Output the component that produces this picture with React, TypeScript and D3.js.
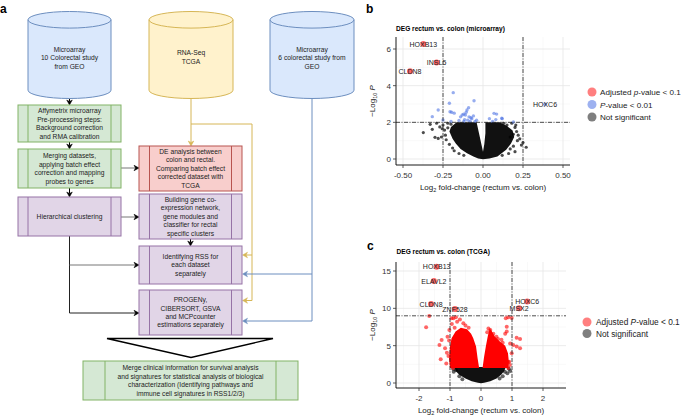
import React from 'react';
import * as d3 from 'd3';

const FONT = "'Liberation Sans', Arial, Helvetica, sans-serif";

// ---------------- Panel b (microarray) data ----------------
const microTicksX = [-0.5, -0.25, 0, 0.25, 0.5];
const microTickLabelsX = ['-0.50', '-0.25', '0.00', '0.25', '0.50'];
const microMinorX = [-0.375, -0.125, 0.125, 0.375];
const microTicksY = [0, 2, 4, 6];
const microMinorY = [1, 3, 5];
const microLfcCut = [-0.25, 0.25];
const microPCut = 2;
// outline of the dense non-significant cloud [log2FC, -log10 P]
const microCoreOutline: [number, number][] = [
  [0.0, -0.02], [-0.03, 0.03], [-0.06, 0.13], [-0.1, 0.31], [-0.14, 0.55], [-0.17, 0.85],
  [-0.19, 1.1], [-0.21, 1.5], [-0.2, 1.75], [-0.165, 2.0], [-0.04, 2.0], [-0.025, 1.4],
  [-0.01, 0.8], [0.0, 0.4], [0.008, 0.8], [0.015, 1.4], [0.015, 2.0], [0.105, 2.0],
  [0.15, 1.8], [0.185, 1.55], [0.195, 1.2], [0.175, 0.85], [0.145, 0.5], [0.09, 0.13], [0.04, 0.03],
];
const microGray: [number, number][] = [
  [-0.33, 1.89], [-0.317, 1.62], [-0.373, 1.44], [-0.3, 1.18], [-0.28, 1.12], [-0.26, 1.2],
  [-0.24, 1.58], [-0.27, 1.75], [-0.29, 1.95], [-0.22, 1.95], [0.21, 1.5], [0.2, 1.72],
  [0.24, 0.76], [0.27, 0.64], [0.25, 0.9], [0.17, 1.2], [0.22, 1.3], [0.15, 1.85],
  [0.18, 1.95], [0.13, 1.95], [-0.21, 0.8], [-0.19, 0.6], [0.2, 0.4], [0.16, 0.3],
  [-0.15, 0.3], [0.23, 1.1], [-0.235, 1.3], [-0.2, 1.9], [-0.25, 1.85], [0.215, 1.0],
  [0.19, 0.7], [-0.23, 1.05], [-0.12, 0.2], [0.12, 0.2], [0.205, 1.85], [-0.255, 1.65],
  [-0.18, 0.45], [0.17, 0.55], [-0.22, 1.7], [0.19, 1.35],
];
const microBlue: [number, number][] = [
  [-0.186, 3.62], [-0.21, 3.04], [-0.056, 3.18], [-0.28, 2.67], [-0.317, 2.31], [-0.206, 2.58],
  [-0.18, 2.5], [-0.1, 2.67], [-0.09, 2.8], [-0.13, 2.4], [-0.087, 2.3], [-0.07, 2.2],
  [-0.115, 2.15], [-0.095, 2.12], [-0.04, 2.12], [-0.075, 2.25], [-0.25, 2.13], [0.069, 2.49],
  [0.085, 2.45], [0.04, 2.2], [0.08, 2.15], [0.12, 2.2], [0.19, 2.02], [-0.11, 2.4],
  [-0.12, 2.45], [-0.105, 2.55], [-0.06, 2.35], [-0.15, 2.1], [-0.2, 2.05], [-0.14, 2.3],
  [0.06, 2.05], [-0.05, 2.05], [-0.08, 2.05], [-0.12, 2.05], [-0.196, 2.55], [0.117, 2.22],
];
const microGenes = ['HOXB13', 'INSL5', 'CLDN8', 'HOXC6'];
const microGeneLfc = [-0.373, -0.29, -0.456, 0.3875];
const microGeneP = [6.27, 5.27, 4.78, 2.98];
const microGeneGroup = ['adj', 'adj', 'adj', 'p'];

// ---------------- Panel c (TCGA) data ----------------
const tcgaTicksX = [-2, -1, 0, 1, 2];
const tcgaMinorX = [-2.5, -1.5, -0.5, 0.5, 1.5, 2.5];
const tcgaTicksY = [0, 5, 10, 15];
const tcgaMinorY = [2.5, 7.5, 12.5];
const tcgaLfcCut = [-1, 1];
const tcgaPCut = 9.0;
const tcgaCoreOutline: [number, number][] = [
  [-0.85, 2.15], [-0.82, 1.6], [-0.7, 1.1], [-0.5, 0.6], [-0.3, 0.25], [-0.1, 0.03], [0, -0.05],
  [0.1, 0.03], [0.3, 0.25], [0.5, 0.6], [0.65, 1.1], [0.75, 1.6], [0.8, 2.15],
];
const tcgaRedLeftOutline: [number, number][] = [
  [-1.0, 2.0], [-1.03, 3.2], [-1.0, 4.9], [-0.95, 6.0], [-0.82, 6.9], [-0.65, 7.4],
  [-0.45, 7.2], [-0.32, 6.6], [-0.25, 6.0], [-0.16, 4.9], [-0.11, 3.3], [-0.06, 2.0],
];
const tcgaRedRightOutline: [number, number][] = [
  [0.05, 2.0], [0.1, 3.5], [0.16, 5.0], [0.22, 6.3], [0.28, 7.3], [0.34, 7.0], [0.45, 6.2],
  [0.6, 5.6], [0.78, 5.0], [0.87, 4.0], [0.9, 2.8], [0.88, 2.0],
];
const tcgaRed: [number, number][] = [
  [-1.67, 8.97], [-1.77, 7.45], [-1.27, 5.76], [-1.34, 5.1], [-1.3, 3.17], [-1.16, 4.64],
  [-1.1, 4.06], [-1.02, 7.1], [-0.89, 8.66], [-0.81, 8.8], [-0.68, 8.5], [-0.77, 8.2],
  [-0.57, 8.0], [-0.94, 7.9], [-1.08, 6.2], [-1.03, 5.7], [-0.95, 8.66], [-0.9, 2.0],
  [-1.12, 2.6], [-1.05, 3.6], [-0.5, 7.7], [-0.4, 7.4], [-0.85, 7.4],
  [0.24, 7.3], [0.3, 7.1], [0.83, 7.54], [0.8, 8.66], [0.88, 8.8], [1.04, 5.1], [1.26, 4.64],
  [1.15, 4.9], [0.78, 6.6], [0.66, 5.8], [0.72, 3.5], [0.88, 2.8], [0.93, 2.4], [0.99, 4.0],
  [0.5, 6.2], [0.4, 6.6], [0.99, 8.7], [1.15, 6.07], [1.26, 5.9], [0.94, 5.3], [0.83, 6.9],
  [0.77, 3.3], [0.91, 2.85], [0.88, 2.0], [0.2, 6.8], [0.55, 5.9], [0.7, 5.4],
];
const tcgaGray: [number, number][] = [
  [-0.81, 1.74], [0.77, 1.5], [0.94, 1.6], [0.85, 1.3], [-0.9, 1.9], [-0.88, 1.5],
  [0.7, 0.9], [-0.7, 0.9], [0.9, 1.9], [-0.6, 0.5], [0.6, 0.6],
];
const tcgaGenes = ['HOXB13', 'ELAVL2', 'CLDN8', 'ZNF528', 'HOXC6', 'MSX2'];
const tcgaGeneLfc = [-1.43, -1.52, -1.61, -0.84, 1.49, 1.23];
const tcgaGeneP = [15.57, 13.65, 10.58, 9.9, 10.9, 10.0];

// ---------------- Flowchart text ----------------
const cyl1Text = ['Microarray', '10 Colorectal study', 'from GEO'];
const cyl2Text = ['RNA-Seq', 'TCGA'];
const cyl3Text = ['Microarray', '6 colorectal study from', 'GEO'];
const box1Text = ['Affymetrix microarray', 'Pre-processing steps:', 'Background correction', 'and RMA calibration'];
const box2Text = ['Merging datasets,', 'applying batch effect', 'correction and mapping', 'probes to genes'];
const box3Text = ['Hierarchical clustering'];
const redText = ['DE analysis between', 'colon and rectal.', 'Comparing batch effect', 'corrected dataset with', 'TCGA'];
const buildText = ['Building gene co-', 'expression network,', 'gene modules and', 'classifier for rectal', 'specific clusters'];
const rssText = ['Identifying RSS for', 'each dataset', 'separately'];
const progText = ['PROGENy,', 'CIBERSORT, GSVA', 'and MCPcounter', 'estimations separately'];
const finalText = [
  'Merge clinical information for survival analysis',
  'and signatures for statistical analysis of biological',
  'characterization (Identifying pathways and',
  'immune cell signatures in RSS1/2/3)',
];

const BLUE = { fill: '#dae8fc', stroke: '#6c8ebf' };
const YELLOW = { fill: '#fff2cc', stroke: '#d6b656' };
const GREEN = { fill: '#d5e8d4', stroke: '#82b366' };
const RED = { fill: '#f8cecc', stroke: '#b85450' };
const PURPLE = { fill: '#e1d5e7', stroke: '#9673a6' };

function Lines({ cx, cy, lines, lh = 8.5, size = 6.7 }: any) {
  const n = lines.length;
  return (
    <text x={cx} textAnchor="middle" fontSize={size} fill="#222" fontFamily={FONT}>
      {lines.map((l: string, i: number) => (
        <tspan key={i} x={cx} y={cy + (i - (n - 1) / 2) * lh + size * 0.35}>{l}</tspan>
      ))}
    </text>
  );
}

function Cylinder({ x, y, w, h, ry, c, lines, ty }: any) {
  const rx = w / 2;
  const body = `M${x},${y + ry} L${x},${y + h - ry} A${rx},${ry} 0 0 0 ${x + w},${y + h - ry} L${x + w},${y + ry} Z`;
  const top = `M${x},${y + ry} A${rx},${ry} 0 0 1 ${x + w},${y + ry} A${rx},${ry} 0 0 1 ${x},${y + ry} Z`;
  return (
    <g>
      <path d={body} fill={c.fill} stroke={c.stroke} strokeWidth={1} />
      <path d={top} fill={c.fill} stroke={c.stroke} strokeWidth={1} />
      <Lines cx={x + w / 2} cy={ty} lines={lines} />
    </g>
  );
}

function ProcBox({ x, y, w, h, bar, c, lines, lh }: any) {
  return (
    <g>
      <rect x={x} y={y} width={w} height={h} fill={c.fill} stroke={c.stroke} strokeWidth={1} />
      <line x1={x + bar} x2={x + bar} y1={y} y2={y + h} stroke={c.stroke} strokeWidth={1} />
      <line x1={x + w - bar} x2={x + w - bar} y1={y} y2={y + h} stroke={c.stroke} strokeWidth={1} />
      <Lines cx={x + w / 2} cy={y + h / 2} lines={lines} lh={lh} />
    </g>
  );
}

function Arrow({ x1, y1, x2, y2, color = '#000', head = '#000', hl = 5, hw = 2.8, sw = 1 }: any) {
  const dx = x2 - x1, dy = y2 - y1;
  const len = Math.sqrt(dx * dx + dy * dy) || 1;
  const ux = dx / len, uy = dy / len;
  const bx = x2 - ux * hl, by = y2 - uy * hl;
  const px = -uy, py = ux;
  const tri = `M${x2},${y2} L${bx + px * hw},${by + py * hw} L${bx + ux * 1.5},${by + uy * 1.5} L${bx - px * hw},${by - py * hw} Z`;
  return (
    <g>
      <line x1={x1} y1={y1} x2={bx + ux * 1.5} y2={by + uy * 1.5} stroke={color} strokeWidth={sw} />
      <path d={tri} fill={head} stroke={head} strokeWidth={0.5} />
    </g>
  );
}

function Flowchart() {
  return (
    <g>
      <text x={0} y={13} fontSize={12} fontWeight="bold" fontFamily={FONT}>a</text>
      <polyline points="191,124 252,124 252,300.5" fill="none" stroke={YELLOW.stroke} strokeWidth={1} />
      <Arrow x1={191} y1={99} x2={191} y2={146} color={YELLOW.stroke} head={YELLOW.stroke} />
      <Arrow x1={252} y1={255} x2={242.5} y2={255} color={YELLOW.stroke} head={YELLOW.stroke} />
      <Arrow x1={252} y1={300.5} x2={242.5} y2={300.5} color={YELLOW.stroke} head={YELLOW.stroke} />
      <line x1={312} y1={99} x2={312} y2={321} stroke={BLUE.stroke} strokeWidth={1} />
      <Arrow x1={312} y1={274} x2={242.5} y2={274} color={BLUE.stroke} head={BLUE.stroke} />
      <Arrow x1={312} y1={321} x2={242.5} y2={321} color={BLUE.stroke} head={BLUE.stroke} />
      <line x1={69.5} y1={236} x2={69.5} y2={313} stroke="#222" strokeWidth={1} />
      <Arrow x1={69.5} y1={265} x2={139} y2={265} color="#777" />
      <Arrow x1={69.5} y1={313} x2={139} y2={313} color="#222" />
      <Arrow x1={69.5} y1={98.5} x2={69.5} y2={105} />
      <Arrow x1={69.5} y1={142} x2={69.5} y2={149} />
      <Arrow x1={69.5} y1={188} x2={69.5} y2={197} />
      <Arrow x1={121} y1={168} x2={139} y2={168} color="#777" />
      <Arrow x1={121} y1={217} x2={139} y2={217} color="#777" />
      <Arrow x1={190.5} y1={239} x2={190.5} y2={246} />

      <Cylinder x={28} y={11.5} w={83} h={87} ry={8.3} c={BLUE} lines={cyl1Text} ty={57.7} />
      <Cylinder x={149} y={11.5} w={84} h={87} ry={8.3} c={YELLOW} lines={cyl2Text} ty={57} />
      <Cylinder x={270} y={11.5} w={84} h={87} ry={8.3} c={BLUE} lines={cyl3Text} ty={57.7} />

      <ProcBox x={18} y={105} w={103} h={37} bar={10} c={GREEN} lines={box1Text} lh={8.6} />
      <ProcBox x={18} y={149} w={103} h={39} bar={10} c={GREEN} lines={box2Text} lh={8.6} />
      <ProcBox x={18} y={197} w={103} h={39} bar={10} c={PURPLE} lines={box3Text} />
      <ProcBox x={139} y={146} w={103} h={45} bar={10.5} c={RED} lines={redText} lh={8.6} />
      <ProcBox x={139} y={194} w={103} h={45} bar={10.5} c={PURPLE} lines={buildText} lh={8.4} />
      <ProcBox x={139} y={246} w={103} h={38} bar={10.5} c={PURPLE} lines={rssText} lh={8.4} />
      <ProcBox x={139} y={290} w={103} h={45} bar={10.5} c={PURPLE} lines={progText} lh={8.4} />

      <path d="M107,338.5 L273,338.5 L191,357.5 Z" fill="#fff" stroke="#000" strokeWidth={1.4} />

      <ProcBox x={83} y={361} w={215} h={39} bar={22} c={GREEN} lines={finalText} lh={8.5} />
    </g>
  );
}

function Grid({ x, y, minorX, majorX, minorY, majorY, left, right, top, bottom }: any) {
  return (
    <g>
      {minorX.map((v: number, i: number) => (
        <line key={'mx' + i} x1={x(v)} x2={x(v)} y1={top} y2={bottom} stroke="#f2f2f2" strokeWidth={0.5} />
      ))}
      {minorY.map((v: number, i: number) => (
        <line key={'my' + i} y1={y(v)} y2={y(v)} x1={left} x2={right} stroke="#f2f2f2" strokeWidth={0.5} />
      ))}
      {majorX.map((v: number, i: number) => (
        <line key={'Mx' + i} x1={x(v)} x2={x(v)} y1={top} y2={bottom} stroke="#e6e6e6" strokeWidth={0.8} />
      ))}
      {majorY.map((v: number, i: number) => (
        <line key={'My' + i} y1={y(v)} y2={y(v)} x1={left} x2={right} stroke="#e6e6e6" strokeWidth={0.8} />
      ))}
    </g>
  );
}

function Axes({ x, y, ticksX, labelsX, ticksY, left, right, top, bottom }: any) {
  return (
    <g fontFamily={FONT} fontSize={8} fill="#333">
      <line x1={left} x2={left} y1={top} y2={bottom} stroke="#000" strokeWidth={0.9} />
      <line x1={left} x2={right} y1={bottom} y2={bottom} stroke="#000" strokeWidth={0.9} />
      {ticksX.map((v: number, i: number) => (
        <g key={'tx' + i}>
          <line x1={x(v)} x2={x(v)} y1={bottom} y2={bottom + 3} stroke="#333" strokeWidth={0.8} />
          <text x={x(v)} y={bottom + 12.5} textAnchor="middle">{labelsX[i]}</text>
        </g>
      ))}
      {ticksY.map((v: number, i: number) => (
        <g key={'ty' + i}>
          <line x1={left - 3} x2={left} y1={y(v)} y2={y(v)} stroke="#333" strokeWidth={0.8} />
          <text x={left - 5} y={y(v) + 2.9} textAnchor="end">{String(v)}</text>
        </g>
      ))}
    </g>
  );
}

function AxisTitles({ cx, bottom, ly, lx }: any) {
  return (
    <g fontFamily={FONT} fontSize={8} fill="#222">
      <text x={cx} y={bottom + 24.5} textAnchor="middle">
        Log<tspan fontSize={5.5} dy={2}>2</tspan><tspan dy={-2}> fold-change (rectum vs. colon)</tspan>
      </text>
      <text transform={`translate(${lx},${ly}) rotate(-90)`} textAnchor="middle">
        −Log<tspan fontSize={5.5} dy={2}>10</tspan><tspan dy={-2}> </tspan><tspan fontStyle="italic">P</tspan>
      </text>
    </g>
  );
}

function Thresholds({ x, y, lfc, p, left, right, top, bottom }: any) {
  const dash = '4,1.5,1,1.5';
  return (
    <g>
      {lfc.map((v: number, i: number) => (
        <line key={i} x1={x(v)} x2={x(v)} y1={top} y2={bottom} stroke="#222" strokeWidth={0.8} strokeDasharray={dash} />
      ))}
      <line x1={left} x2={right} y1={y(p)} y2={y(p)} stroke="#222" strokeWidth={0.8} strokeDasharray={dash} />
    </g>
  );
}

function PanelB() {
  const left = 396, right = 570, top = 37, bottom = 165;
  const x = d3.scaleLinear().domain([-0.5, 0.5]).range([403, 563]);
  const y = d3.scaleLinear().domain([0, 6]).range([159, 49]);
  const area = d3.line<[number, number]>().x(d => x(d[0])).y(d => y(d[1])).curve(d3.curveLinearClosed);
  return (
    <g>
      <text x={366} y={13} fontSize={12} fontWeight="bold" fontFamily={FONT}>b</text>
      <text x={396} y={30.5} fontSize={6.6} fontWeight="bold" fontFamily={FONT}>DEG rectum vs. colon (microarray)</text>
      <Grid x={x} y={y} minorX={microMinorX} majorX={microTicksX} minorY={microMinorY} majorY={microTicksY}
        left={left} right={right} top={top} bottom={bottom} />
      <path d={area(microCoreOutline) || ''} fill="#111" />
      {microGray.map((d, i) => (
        <circle key={'g' + i} cx={x(d[0])} cy={y(d[1])} r={1.6} fill="#000" fillOpacity={0.7} />
      ))}
      {microBlue.map((d, i) => (
        <circle key={'b' + i} cx={x(d[0])} cy={y(d[1])} r={1.7} fill="#4169E1" fillOpacity={0.55} />
      ))}
      <Thresholds x={x} y={y} lfc={microLfcCut} p={microPCut} left={left} right={right} top={top} bottom={bottom} />
      {microGenes.map((g, i) => (
        <g key={g}>
          <circle cx={x(microGeneLfc[i])} cy={y(microGeneP[i])} r={microGeneGroup[i] === 'adj' ? 3 : 1.8}
            fill={microGeneGroup[i] === 'adj' ? '#ff0000' : '#4169E1'} fillOpacity={0.6} />
          <text x={x(microGeneLfc[i])} y={y(microGeneP[i]) + 2.5} textAnchor="middle" fontSize={7}
            fontFamily={FONT} fill="#222">{g}</text>
        </g>
      ))}
      <Axes x={x} y={y} ticksX={microTicksX} labelsX={microTickLabelsX} ticksY={microTicksY}
        left={left} right={right} top={top} bottom={bottom} />
      <AxisTitles cx={483} bottom={bottom} lx={375} ly={101} />
      <g fontFamily={FONT} fontSize={8.1} fill="#222">
        <circle cx={592} cy={92} r={4.5} fill="#ff7f7f" />
        <text x={600} y={95}>Adjusted <tspan fontStyle="italic">p</tspan>-value &lt; 0.1</text>
        <circle cx={592} cy={104.5} r={4.5} fill="#9db1f0" />
        <text x={600} y={107.5}><tspan fontStyle="italic">P</tspan>-value &lt; 0.01</text>
        <circle cx={592} cy={117} r={4.5} fill="#7f7f7f" />
        <text x={600} y={120}>Not significant</text>
      </g>
    </g>
  );
}

function PanelC() {
  const left = 396, right = 566, top = 262, bottom = 388;
  const x = d3.scaleLinear().domain([-2, 2]).range([419, 543]);
  const y = d3.scaleLinear().domain([0, 15]).range([383, 271]);
  const area = d3.line<[number, number]>().x(d => x(d[0])).y(d => y(d[1])).curve(d3.curveLinearClosed);
  return (
    <g>
      <text x={367} y={250} fontSize={12} fontWeight="bold" fontFamily={FONT}>c</text>
      <text x={396.5} y={253.5} fontSize={6.6} fontWeight="bold" fontFamily={FONT}>DEG rectum vs. colon (TCGA)</text>
      <Grid x={x} y={y} minorX={tcgaMinorX} majorX={tcgaTicksX} minorY={tcgaMinorY} majorY={tcgaTicksY}
        left={left} right={right} top={top} bottom={bottom} />
      <path d={area(tcgaCoreOutline) || ''} fill="#111" />
      {tcgaGray.map((d, i) => (
        <circle key={'g' + i} cx={x(d[0])} cy={y(d[1])} r={2} fill="#000" fillOpacity={0.6} />
      ))}
      <path d={area(tcgaRedLeftOutline) || ''} fill="#ff0000" />
      <path d={area(tcgaRedRightOutline) || ''} fill="#ff0000" />
      {tcgaRed.map((d, i) => (
        <circle key={'r' + i} cx={x(d[0])} cy={y(d[1])} r={2} fill="#ff0000" fillOpacity={0.6} />
      ))}
      <Thresholds x={x} y={y} lfc={tcgaLfcCut} p={tcgaPCut} left={left} right={right} top={top} bottom={bottom} />
      {tcgaGenes.map((g, i) => (
        <g key={g}>
          <circle cx={x(tcgaGeneLfc[i])} cy={y(tcgaGeneP[i])} r={3} fill="#ff0000" fillOpacity={0.6} />
          <text x={x(tcgaGeneLfc[i])} y={y(tcgaGeneP[i]) + 2.5} textAnchor="middle" fontSize={7}
            fontFamily={FONT} fill="#222">{g}</text>
        </g>
      ))}
      <Axes x={x} y={y} ticksX={tcgaTicksX} labelsX={tcgaTicksX.map(String)} ticksY={tcgaTicksY}
        left={left} right={right} top={top} bottom={bottom} />
      <AxisTitles cx={481} bottom={bottom} lx={375} ly={325} />
      <g fontFamily={FONT} fontSize={8.3} fill="#222">
        <circle cx={587} cy={322} r={4.5} fill="#ff7f7f" />
        <text x={596} y={325}>Adjusted <tspan fontStyle="italic">P</tspan>-value &lt; 0.1</text>
        <circle cx={587} cy={333.5} r={4.5} fill="#7f7f7f" />
        <text x={596} y={336.5}>Not significant</text>
      </g>
    </g>
  );
}

export default function App() {
  return (
    <div style={{ position: 'absolute', left: 0, top: 0 }}>
      <svg width={685} height={418} viewBox="0 0 685 418" style={{ display: 'block', background: '#fff' }}>
        <rect x={0} y={0} width={685} height={418} fill="#fff" />
        <Flowchart />
        <PanelB />
        <PanelC />
      </svg>
    </div>
  );
}
